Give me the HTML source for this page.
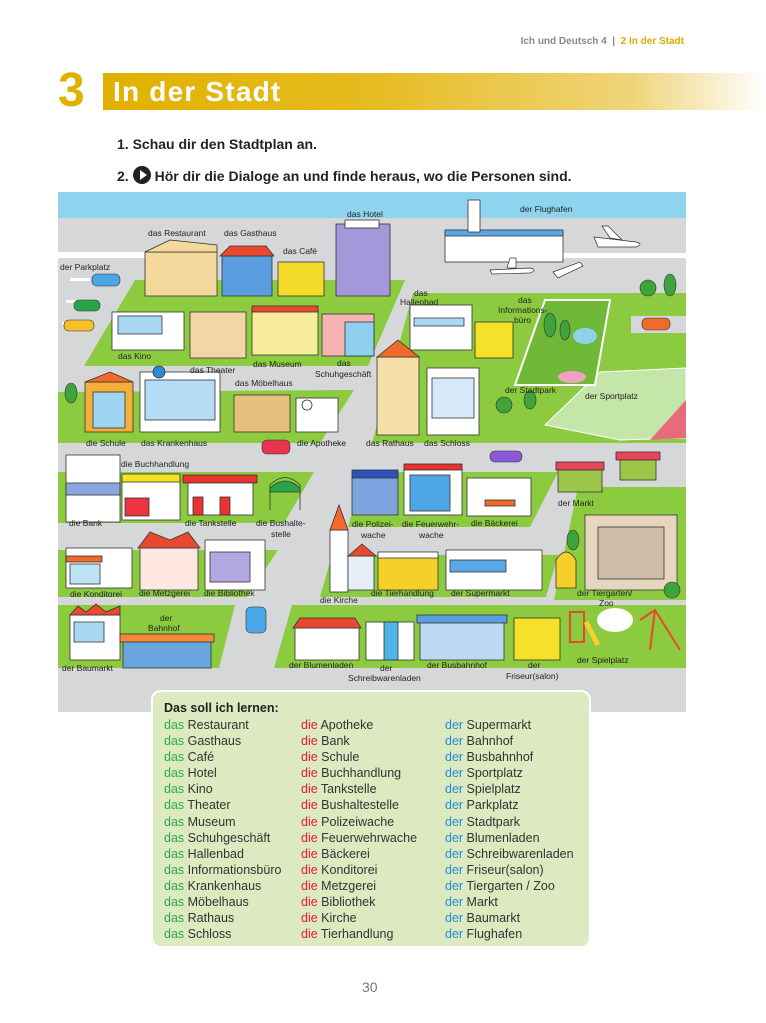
<!DOCTYPE html>
<html><head><meta charset="utf-8">
<style>
*{margin:0;padding:0;box-sizing:border-box}
body{width:766px;height:1023px;background:#fff;position:relative;overflow:hidden;font-family:"Liberation Sans",sans-serif;color:#222}
.hdr{position:absolute;right:82px;top:36px;font-size:10px;font-weight:bold;color:#888;white-space:nowrap}
.hdr b{color:#e0aa00}
.num{position:absolute;left:58px;top:66px;font-size:48px;font-weight:900;color:#e2b100;line-height:50px}
.bar{position:absolute;left:103px;top:73px;width:663px;height:37px;background:linear-gradient(90deg,#e1b000 0%,#e6bb20 40%,#efd57a 80%,#fff 100%)}
.bar span{position:absolute;left:10px;top:3px;font-size:28px;font-weight:900;color:#fff;letter-spacing:1.2px}
.ins{position:absolute;left:117px;font-size:14px;font-weight:bold;color:#222;white-space:nowrap}
.play{display:inline-block;width:18px;height:18px;border-radius:50%;background:#222;vertical-align:-3px;position:relative;margin-right:4px}
.play:after{content:"";position:absolute;left:7px;top:4px;border-left:7px solid #fff;border-top:5px solid transparent;border-bottom:5px solid transparent}
.map{position:absolute;left:58px;top:192px}
.voc{position:absolute;left:151px;top:690px;width:440px;height:258px;background:#dde9c0;border:2px solid #fff;border-radius:10px}
.voc h4{position:absolute;left:11px;top:9px;font-size:12.5px;font-weight:bold}
.col{position:absolute;top:25px;font-size:12.5px;line-height:16.1px;color:#333;white-space:nowrap}
.g{color:#2eaa45}.r{color:#e3202b}.b{color:#1a8fd4}
.pg{position:absolute;left:362px;top:979px;font-size:14px;color:#777}
</style></head><body>
<div class="hdr">Ich und Deutsch 4 &nbsp;|&nbsp; <b>2 In der Stadt</b></div>
<div class="num">3</div>
<div class="bar"><span>In der Stadt</span></div>
<div class="ins" style="top:136px">1. Schau dir den Stadtplan an.</div>
<div class="ins" style="top:166px">2. <span class="play"></span>Hör dir die Dialoge an und finde heraus, wo die Personen sind.</div>

<svg class="map" width="628" height="520" viewBox="58 192 628 520" xmlns="http://www.w3.org/2000/svg" font-family="Liberation Sans, sans-serif" font-size="8.5" fill="#222">
<rect x="58" y="192" width="628" height="520" fill="#d6d7d9"/>
<rect x="58" y="192" width="628" height="26" fill="#8fd4ee"/>
<rect x="58" y="252" width="140" height="6" fill="#fff"/>
<rect x="560" y="253" width="126" height="5" fill="#fff"/>
<g fill="#fff"><rect x="70" y="278" width="20" height="3"/><rect x="66" y="300" width="20" height="3"/><rect x="62" y="322" width="20" height="3"/><rect x="630" y="330" width="56" height="3"/></g>
<g fill="#8ccb3f">
<polygon points="84,366 135,280 405,280 368,366"/>
<polygon points="58,392 354,390 320,443 58,443"/>
<polygon points="372,443 413,293 686,293 686,443"/>
<polygon points="58,472 314,472 284,523 58,523"/>
<polygon points="58,550 278,550 247,597 58,597"/>
<polygon points="58,605 235,605 219,668 58,668"/>
<polygon points="348,527 364,472 558,472 530,527"/>
<polygon points="320,597 332,555 558,555 546,597"/>
<polygon points="554,600 578,487 686,487 686,600"/>
<polygon points="274,668 292,605 686,605 686,668"/>
</g>
<rect x="631" y="316" width="55" height="17" fill="#d6d7d9"/>
<polygon points="545,425 600,372 686,368 686,438 620,440" fill="#c4e6a8" stroke="#fff"/>
<polygon points="650,440 686,400 686,438" fill="#e86b7c"/>
<polygon points="515,385 545,300 610,300 595,385" fill="#6fb838" stroke="#fff" stroke-width="2"/>
<ellipse cx="585" cy="336" rx="12" ry="8" fill="#8fd0ea"/>
<ellipse cx="572" cy="377" rx="14" ry="6" fill="#f0a0c0"/>
<g stroke="#333" stroke-width="0.8">
<rect x="145" y="252" width="72" height="44" fill="#f5d89c"/><polygon points="145,252 170,240 217,245 217,252" fill="#f5d89c"/>
<rect x="222" y="256" width="50" height="40" fill="#5b9ee0"/><polygon points="220,256 230,246 266,246 274,256" fill="#e8492e"/>
<rect x="278" y="262" width="46" height="34" fill="#f5dc2a"/>
<rect x="336" y="224" width="54" height="72" fill="#a497da"/><rect x="345" y="220" width="34" height="8" fill="#fff"/>
<rect x="445" y="232" width="118" height="30" fill="#fff"/><rect x="445" y="230" width="118" height="6" fill="#5aa6e6"/><rect x="468" y="200" width="12" height="32" fill="#fff"/>
<rect x="112" y="312" width="72" height="38" fill="#fff"/><rect x="118" y="316" width="44" height="18" fill="#a9d9f2"/>
<rect x="190" y="312" width="56" height="46" fill="#f3d6a8"/>
<rect x="252" y="310" width="66" height="45" fill="#f8eb9a"/><rect x="252" y="306" width="66" height="6" fill="#e8492e"/>
<rect x="322" y="314" width="52" height="42" fill="#f5b3b3"/><rect x="345" y="322" width="29" height="34" fill="#8fd0ee"/>
<rect x="410" y="305" width="62" height="45" fill="#fff"/><rect x="414" y="318" width="50" height="8" fill="#a9d9f2"/>
<rect x="475" y="322" width="38" height="36" fill="#f5e02a"/>
<rect x="85" y="382" width="48" height="50" fill="#f2b03a"/><rect x="93" y="392" width="32" height="36" fill="#9fd5f0"/><polygon points="85,382 110,372 133,382" fill="#f06a2a"/>
<rect x="140" y="372" width="80" height="60" fill="#fff"/><rect x="145" y="380" width="70" height="40" fill="#b4dcf4"/><circle cx="159" cy="372" r="6" fill="#2a8ad6"/>
<rect x="234" y="395" width="56" height="37" fill="#e5c07c"/>
<rect x="296" y="398" width="42" height="34" fill="#fff"/><circle cx="307" cy="405" r="5" fill="#fff"/>
<rect x="377" y="357" width="42" height="78" fill="#f5dfa8"/><polygon points="377,357 398,340 419,357" fill="#f06a2a"/>
<rect x="427" y="368" width="52" height="67" fill="#fff"/><rect x="432" y="378" width="42" height="40" fill="#d6e9f8"/>
<rect x="66" y="455" width="54" height="67" fill="#fff"/><rect x="66" y="483" width="54" height="12" fill="#8aa6de"/>
<rect x="122" y="478" width="58" height="42" fill="#fff"/><rect x="122" y="474" width="58" height="8" fill="#f5e02a"/><rect x="125" y="498" width="24" height="18" fill="#e34"/>
<rect x="183" y="475" width="74" height="8" fill="#e8332e"/><rect x="188" y="483" width="65" height="32" fill="#fff"/><rect x="193" y="497" width="10" height="18" fill="#e8332e"/><rect x="220" y="497" width="10" height="18" fill="#e8332e"/>
<path d="M270,510 L270,485 Q285,470 300,485 L300,510" fill="none" stroke="#333"/><path d="M270,488 Q285,474 300,488 L300,492 L270,492Z" fill="#2aa34a"/>
<rect x="352" y="475" width="46" height="40" fill="#7ea3df"/><rect x="352" y="470" width="46" height="8" fill="#2a52b8"/>
<rect x="404" y="468" width="58" height="47" fill="#fff"/><rect x="404" y="464" width="58" height="6" fill="#e8332e"/><rect x="410" y="475" width="40" height="36" fill="#4fa6e6"/>
<rect x="467" y="478" width="64" height="38" fill="#fff"/><rect x="485" y="500" width="30" height="6" fill="#f06a2a"/>
<rect x="556" y="462" width="48" height="8" fill="#e8445a"/><rect x="558" y="470" width="44" height="22" fill="#9bc648"/>
<rect x="616" y="452" width="44" height="8" fill="#e8445a"/><rect x="620" y="460" width="36" height="20" fill="#9bc648"/>
<rect x="66" y="548" width="66" height="40" fill="#fff"/><rect x="66" y="556" width="36" height="6" fill="#f06a2a"/><rect x="70" y="564" width="30" height="20" fill="#bde3f5"/>
<rect x="140" y="548" width="58" height="42" fill="#fde7e0"/><polygon points="138,548 150,532 170,540 188,532 200,548" fill="#e8492e"/>
<rect x="205" y="540" width="60" height="50" fill="#fff"/><rect x="210" y="552" width="40" height="30" fill="#b3a8e0"/>
<rect x="330" y="530" width="18" height="62" fill="#fff"/><polygon points="330,530 339,505 348,530" fill="#f06a2a"/><rect x="348" y="556" width="26" height="34" fill="#e6eef8"/><polygon points="348,556 362,544 376,556" fill="#e8492e"/>
<rect x="378" y="555" width="60" height="35" fill="#f5d02a"/><rect x="378" y="552" width="60" height="6" fill="#fff"/>
<rect x="446" y="550" width="96" height="40" fill="#fff"/><rect x="450" y="560" width="56" height="12" fill="#5aa6e6"/>
<rect x="585" y="515" width="92" height="75" fill="#e6d6c0"/><rect x="598" y="527" width="66" height="52" fill="#cdbca6"/>
<path d="M556,588 L556,560 Q566,544 576,560 L576,588Z" fill="#f5d02a"/>
<rect x="70" y="615" width="50" height="45" fill="#fff"/><polygon points="70,615 78,606 86,612 96,604 106,612 120,606 120,615" fill="#e8492e"/><rect x="74" y="622" width="30" height="20" fill="#a9d9f2"/>
<rect x="123" y="640" width="88" height="28" fill="#6aa6e0"/><rect x="120" y="634" width="94" height="8" fill="#f38a3a"/>
<rect x="295" y="628" width="64" height="32" fill="#fff"/><polygon points="293,628 300,618 355,618 361,628" fill="#e8492e"/>
<rect x="366" y="622" width="48" height="38" fill="#fff"/><rect x="384" y="622" width="14" height="38" fill="#4fb4ea"/>
<rect x="420" y="622" width="84" height="38" fill="#bcd8f3"/><rect x="417" y="615" width="90" height="8" fill="#5b9ee0"/>
<rect x="514" y="618" width="46" height="42" fill="#f5e02a"/>
<rect x="570" y="612" width="14" height="30" fill="none" stroke="#e8492e" stroke-width="2"/><path d="M586,622 L598,645" stroke="#f5d02a" stroke-width="5"/>
<ellipse cx="615" cy="620" rx="18" ry="12" fill="#fff" stroke="none"/>
<path d="M640,620 L655,610 L680,650 M655,610 L650,650" fill="none" stroke="#e8492e" stroke-width="2"/>
</g>
<g fill="#fff" stroke="#333" stroke-width="0.7">
<path d="M594,237 L636,242 Q644,244 636,247 L598,247Z"/><path d="M610,238 L602,226 L608,226 L622,240Z"/>
<path d="M490,270 L530,268 Q538,270 530,273 L492,274Z"/><path d="M507,268 L510,258 L516,258 L516,268Z"/>
<path d="M553,272 L580,262 L583,266 L558,278Z"/>
</g>
<g fill="#3ea33a" stroke="#333" stroke-width="0.6">
<ellipse cx="71" cy="393" rx="6" ry="10"/><ellipse cx="648" cy="288" rx="8" ry="8"/><ellipse cx="670" cy="285" rx="6" ry="11"/>
<ellipse cx="504" cy="405" rx="8" ry="8"/><ellipse cx="530" cy="400" rx="6" ry="9"/><ellipse cx="550" cy="325" rx="6" ry="12"/><ellipse cx="565" cy="330" rx="5" ry="10"/>
<ellipse cx="573" cy="540" rx="6" ry="10"/><ellipse cx="672" cy="590" rx="8" ry="8"/>
</g>
<g stroke="#333" stroke-width="0.6">
<rect x="92" y="274" width="28" height="12" rx="5" fill="#4aa6e6"/>
<rect x="74" y="300" width="26" height="11" rx="5" fill="#2aa34a"/>
<rect x="64" y="320" width="30" height="11" rx="5" fill="#f5c02a"/>
<rect x="642" y="318" width="28" height="12" rx="5" fill="#f06a2a"/>
<rect x="262" y="440" width="28" height="14" rx="5" fill="#e8334e"/>
<rect x="490" y="451" width="32" height="11" rx="5" fill="#8a5ad6"/>
<rect x="246" y="607" width="20" height="26" rx="5" fill="#4aa6e6"/>
</g>
<g>
<text x="148" y="236">das Restaurant</text><text x="224" y="236">das Gasthaus</text><text x="347" y="217">das Hotel</text>
<text x="520" y="212">der Flughafen</text><text x="283" y="254">das Café</text><text x="60" y="270">der Parkplatz</text>
<text x="414" y="296">das</text><text x="400" y="305">Hallenbad</text>
<text x="518" y="303">das</text><text x="498" y="313">Informations-</text><text x="514" y="323">büro</text>
<text x="118" y="359">das Kino</text><text x="190" y="373">das Theater</text><text x="253" y="367">das Museum</text>
<text x="337" y="366">das</text><text x="315" y="377">Schuhgeschäft</text><text x="235" y="386">das Möbelhaus</text>
<text x="505" y="393">der Stadtpark</text><text x="585" y="399">der Sportplatz</text>
<text x="86" y="446">die Schule</text><text x="141" y="446">das Krankenhaus</text><text x="297" y="446">die Apotheke</text>
<text x="366" y="446">das Rathaus</text><text x="424" y="446">das Schloss</text><text x="121" y="467">die Buchhandlung</text>
<text x="558" y="506">der Markt</text><text x="69" y="526">die Bank</text><text x="185" y="526">die Tankstelle</text>
<text x="256" y="526">die Bushalte-</text><text x="271" y="537">stelle</text>
<text x="352" y="527">die Polizei-</text><text x="361" y="538">wache</text>
<text x="402" y="527">die Feuerwehr-</text><text x="419" y="538">wache</text><text x="471" y="526">die Bäckerei</text>
<text x="70" y="597">die Konditorei</text><text x="139" y="596">die Metzgerei</text><text x="204" y="596">die Bibliothek</text>
<text x="320" y="603">die Kirche</text><text x="371" y="596">die Tierhandlung</text><text x="451" y="596">der Supermarkt</text>
<text x="577" y="596">der Tiergarten/</text><text x="599" y="606">Zoo</text>
<text x="160" y="621">der</text><text x="148" y="631">Bahnhof</text><text x="62" y="671">der Baumarkt</text>
<text x="289" y="668">der Blumenladen</text><text x="380" y="671">der</text><text x="348" y="681">Schreibwarenladen</text>
<text x="427" y="668">der Busbahnhof</text><text x="528" y="668">der</text><text x="506" y="679">Friseur(salon)</text>
<text x="577" y="663">der Spielplatz</text>
</g>
</svg>

<div class="voc">
<h4>Das soll ich lernen:</h4>
<div class="col" style="left:11px">
<span class="g">das</span> Restaurant<br><span class="g">das</span> Gasthaus<br><span class="g">das</span> Café<br><span class="g">das</span> Hotel<br><span class="g">das</span> Kino<br><span class="g">das</span> Theater<br><span class="g">das</span> Museum<br><span class="g">das</span> Schuhgeschäft<br><span class="g">das</span> Hallenbad<br><span class="g">das</span> Informationsbüro<br><span class="g">das</span> Krankenhaus<br><span class="g">das</span> Möbelhaus<br><span class="g">das</span> Rathaus<br><span class="g">das</span> Schloss
</div>
<div class="col" style="left:148px">
<span class="r">die</span> Apotheke<br><span class="r">die</span> Bank<br><span class="r">die</span> Schule<br><span class="r">die</span> Buchhandlung<br><span class="r">die</span> Tankstelle<br><span class="r">die</span> Bushaltestelle<br><span class="r">die</span> Polizeiwache<br><span class="r">die</span> Feuerwehrwache<br><span class="r">die</span> Bäckerei<br><span class="r">die</span> Konditorei<br><span class="r">die</span> Metzgerei<br><span class="r">die</span> Bibliothek<br><span class="r">die</span> Kirche<br><span class="r">die</span> Tierhandlung
</div>
<div class="col" style="left:292px">
<span class="b">der</span> Supermarkt<br><span class="b">der</span> Bahnhof<br><span class="b">der</span> Busbahnhof<br><span class="b">der</span> Sportplatz<br><span class="b">der</span> Spielplatz<br><span class="b">der</span> Parkplatz<br><span class="b">der</span> Stadtpark<br><span class="b">der</span> Blumenladen<br><span class="b">der</span> Schreibwarenladen<br><span class="b">der</span> Friseur(salon)<br><span class="b">der</span> Tiergarten / Zoo<br><span class="b">der</span> Markt<br><span class="b">der</span> Baumarkt<br><span class="b">der</span> Flughafen
</div>
</div>
<div class="pg">30</div>
</body></html>
